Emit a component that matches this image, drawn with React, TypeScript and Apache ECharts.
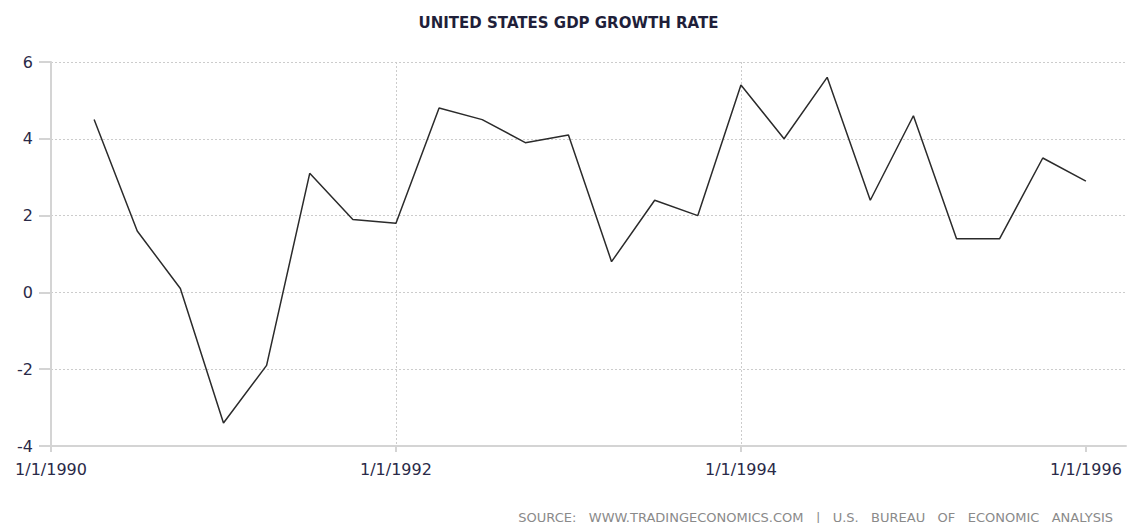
import React, { useEffect, useRef } from "react";
import * as echarts from "echarts";

const TITLE = "UNITED STATES GDP GROWTH RATE";
const SOURCE = "SOURCE:   WWW.TRADINGECONOMICS.COM   |   U.S.   BUREAU   OF   ECONOMIC   ANALYSIS";

const quarterDates = [
  "1990-04-01", "1990-07-01", "1990-10-01", "1991-01-01",
  "1991-04-01", "1991-07-01", "1991-10-01", "1992-01-01",
  "1992-04-01", "1992-07-01", "1992-10-01", "1993-01-01",
  "1993-04-01", "1993-07-01", "1993-10-01", "1994-01-01",
  "1994-04-01", "1994-07-01", "1994-10-01", "1995-01-01",
  "1995-04-01", "1995-07-01", "1995-10-01", "1996-01-01",
];
const gdpGrowth = [
  4.5, 1.6, 0.1, -3.4,
  -1.9, 3.1, 1.9, 1.8,
  4.8, 4.5, 3.9, 4.1,
  0.8, 2.4, 2.0, 5.4,
  4.0, 5.6, 2.4, 4.6,
  1.4, 1.4, 3.5, 2.9,
];
const xTickQuarters = [0, 8, 16, 24];
const yTicks = [-4, -2, 0, 2, 4, 6];

const BASE_YEAR = 1990;
const toQuarterIndex = (d: string) => {
  const [y, m] = d.split("-").map(Number);
  return (y - BASE_YEAR) * 4 + (m - 1) / 3;
};

const FONT = "DejaVu Sans";
const LABEL_COLOR = "#2a2a48";

export default function App() {
  const ref = useRef<HTMLDivElement>(null);
  useEffect(() => {
    if (!ref.current) return;
    const chart = echarts.init(ref.current, null, { renderer: "svg" });
    chart.setOption({
      animation: false,
      backgroundColor: "#ffffff",
      title: {
        text: TITLE,
        left: "center",
        top: 10,
        textStyle: { fontFamily: FONT, fontSize: 15, fontWeight: "bold", color: "#1f1f3a" },
      },
      graphic: [
        {
          type: "text",
          right: 24,
          top: 511,
          style: { text: SOURCE, fontFamily: FONT, fontSize: 13, fill: "#8a8a8a" },
        },
      ],
      grid: { left: 51, right: 11, top: 62, bottom: 85 },
      xAxis: {
        type: "value",
        min: 0,
        max: 24.93,
        interval: 8,
        axisLine: { show: true, onZero: false, lineStyle: { color: "#d4d4d4", width: 2 } },
        axisTick: {
          show: true,
          customValues: xTickQuarters,
          length: 6,
          lineStyle: { color: "#d4d4d4", width: 2 },
        },
        axisLabel: {
          customValues: xTickQuarters,
          formatter: (v: number) => `1/1/${BASE_YEAR + v / 4}`,
          fontFamily: FONT,
          fontSize: 16,
          color: LABEL_COLOR,
          margin: 15,
        },
        splitLine: {
          show: true,
          showMinLine: false,
          showMaxLine: false,
          lineStyle: { color: "#cccccc", type: [2, 2], width: 1 },
        },
      },
      yAxis: {
        type: "value",
        min: yTicks[0],
        max: yTicks[yTicks.length - 1],
        interval: 2,
        axisLine: { show: true, lineStyle: { color: "#d4d4d4", width: 2 } },
        axisTick: { show: true, length: 12, lineStyle: { color: "#d4d4d4", width: 2 } },
        axisLabel: { fontFamily: FONT, fontSize: 16, color: LABEL_COLOR, margin: 18 },
        splitLine: {
          show: true,
          showMinLine: false,
          lineStyle: { color: "#cccccc", type: [2, 2], width: 1 },
        },
      },
      series: [
        {
          type: "line",
          data: quarterDates.map((d, i) => [toQuarterIndex(d), gdpGrowth[i]]),
          showSymbol: false,
          lineStyle: { color: "#2b2b2b", width: 1.5 },
        },
      ],
    });
    return () => chart.dispose();
  }, []);
  return <div ref={ref} style={{ width: 1137, height: 531, margin: -8 }} />;
}
